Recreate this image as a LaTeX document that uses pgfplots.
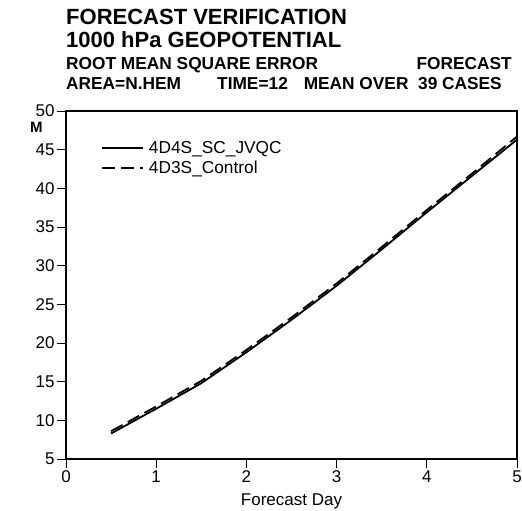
\documentclass[border=0pt]{standalone}
\usepackage{pgfplots}
\pgfplotsset{compat=1.18}
\usetikzlibrary{calc}
\usepackage{fontspec}
\setmainfont{Liberation Sans}
\begin{document}
\begin{tikzpicture}[x=1pt,y=1pt]
\begin{axis}[
  name=ax,
  scale only axis,
  width=451pt, height=348pt,
  xmin=0, xmax=5, ymin=5, ymax=50,
  xtick={0,1,2,3,4,5}, ytick={5,10,15,20,25,30,35,40,45,50},
  xticklabels={0,1,2,3,4,5},
  yticklabels={5,10,15,20,25,30,35,40,45,50},
  xtick pos=left, ytick pos=left,
  tick align=outside,
  major tick length=9pt,
  axis line style={line width=1.6pt},
  every tick/.style={line width=0.8pt, black},
  xticklabel style={font=\fontsize{17}{18}\selectfont, yshift=1pt},
  yticklabel style={font=\fontsize{17}{18}\selectfont, xshift=1pt},
  xlabel={Forecast Day},
  xlabel style={font=\fontsize{17}{18}\selectfont, yshift=-4pt},
  legend style={draw=none, fill=none, at={(35/451,1-28/348)}, anchor=north west,
    font=\fontsize{17.3}{17}\selectfont, row sep=2pt, inner sep=0pt},
  legend cell align=left,
  legend image code/.code={\draw[#1] (0pt,0pt) -- (41pt,0pt);},
  clip=false,
]
\addplot[black, line width=1.8pt] coordinates {
(0.5,8.3) (1,11.5) (1.5,14.8) (2,18.8) (2.5,23.0) (3,27.4) (3.5,32.1) (4,36.9) (4.5,41.6) (5,46.3)
};
\addlegendentry{\hspace{3pt}4D4S\_SC\_JVQC}
\addplot[black, line width=1.8pt, dash pattern=on 13pt off 6pt] coordinates {
(0.5,8.6) (1,11.8) (1.5,15.1) (2,19.1) (2.5,23.3) (3,27.7) (3.5,32.4) (4,37.2) (4.5,41.9) (5,46.7)
};
\addlegendentry{\hspace{3pt}4D3S\_Control}
\end{axis}
\node[anchor=base west, inner sep=0pt, font=\fontsize{15}{16}\selectfont\bfseries] at ($(ax.south west)+(-36pt,326pt)$) {M};
\node[anchor=base west, inner sep=0pt, font=\fontsize{22}{24}\selectfont\bfseries] at ($(ax.north west)+(0pt,86pt)$) {FORECAST VERIFICATION};
\node[anchor=base west, inner sep=0pt, font=\fontsize{22}{24}\selectfont\bfseries] at ($(ax.north west)+(0pt,63pt)$) {1000 hPa GEOPOTENTIAL};
\node[anchor=base west, inner sep=0pt, font=\fontsize{17.3}{19}\selectfont\bfseries] at ($(ax.north west)+(0pt,41pt)$) {ROOT MEAN SQUARE ERROR};
\node[anchor=base east, inner sep=0pt, font=\fontsize{17.3}{19}\selectfont\bfseries] at ($(ax.north east)+(-5pt,41pt)$) {FORECAST};
\node[anchor=base west, inner sep=0pt, font=\fontsize{17.3}{19}\selectfont\bfseries] at ($(ax.north west)+(0pt,21pt)$) {AREA=N.HEM};
\node[anchor=base west, inner sep=0pt, font=\fontsize{17.3}{19}\selectfont\bfseries] at ($(ax.north west)+(151pt,21pt)$) {TIME=12};
\node[anchor=base east, inner sep=0pt, font=\fontsize{17.3}{19}\selectfont\bfseries] at ($(ax.north east)+(-15pt,21pt)$) {MEAN OVER\ \ 39 CASES};
\pgfresetboundingbox
\path ($(ax.south west)+(-66pt,-52pt)$) rectangle ($(ax.south west)+(456pt,459pt)$);
\end{tikzpicture}
\end{document}
